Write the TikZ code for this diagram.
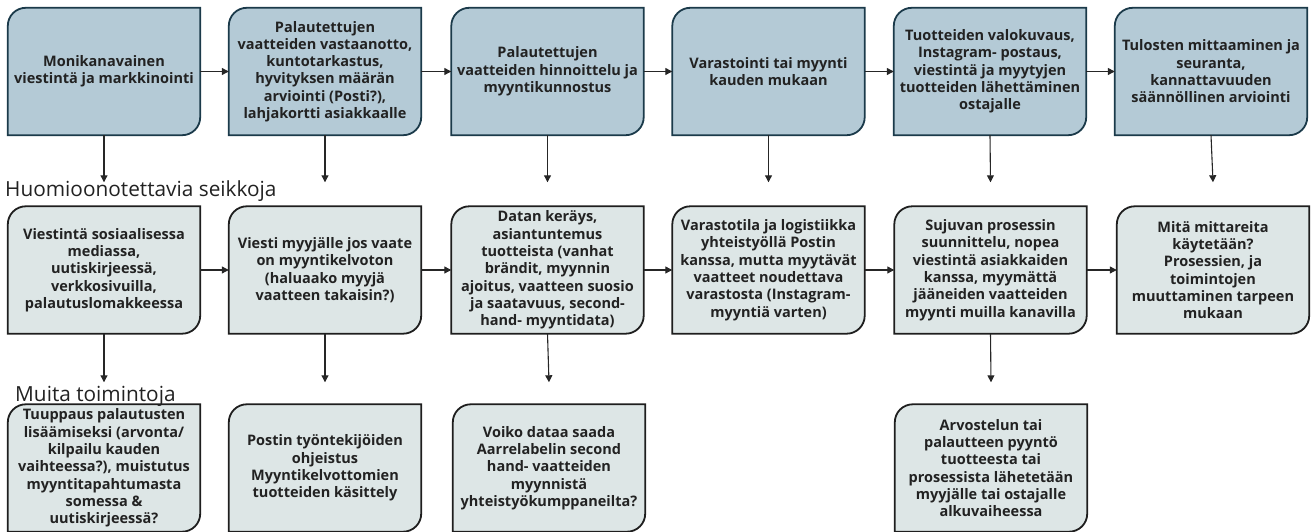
\documentclass[tikz,border=0pt]{standalone}
\usepackage{fontspec}
\setmainfont{Open Sans}
\usetikzlibrary{arrows.meta,backgrounds,calc}
\definecolor{topfill}{HTML}{B4CAD6}
\definecolor{topline}{HTML}{1B3A4A}
\definecolor{lowfill}{HTML}{DDE6E6}
\definecolor{lowline}{HTML}{1E1E1E}
\definecolor{txt}{HTML}{222222}
\def\cornerr{18pt}
\newcommand\diagshape[2]{%
  \path[#1] (#2.south west) -- ([yshift=-\cornerr]#2.north west)
    arc[start angle=180,end angle=90,radius=\cornerr] -- (#2.north east)
    -- ([yshift=\cornerr]#2.south east)
    arc[start angle=0,end angle=-90,radius=\cornerr] -- cycle;}
\tikzset{
  box/.style={minimum width=192pt, minimum height=127pt, inner sep=0pt,
    align=center, text=txt, font=\bfseries\fontsize{14.5}{17.3}\selectfont},
  topshape/.style={fill=topfill, draw=topline, line width=1.8pt},
  lowshape/.style={fill=lowfill, draw=lowline, line width=1.8pt},
  arr/.style={draw=black!85, line width=1.1pt, -{Triangle[length=7pt,width=7pt]}},
  heading/.style={anchor=base west, inner sep=0pt, text=txt, font=\fontsize{20.8}{24}\selectfont}
}
\begin{document}
\begin{tikzpicture}[x=1pt,y=1pt]
\useasboundingbox (0,0) rectangle (1314,532);
% top row (py center 71.5)
\node[box] (t1) at (104,460.5) {Monikanavainen\\viestintä ja markkinointi};
\node[box] (t2) at (325,460.5) {Palautettujen\\vaatteiden vastaanotto,\\kuntotarkastus,\\hyvityksen määrän\\arviointi (Posti?),\\lahjakortti asiakkaalle};
\node[box] (t3) at (547.5,460.5) {Palautettujen\\vaatteiden hinnoittelu ja\\myyntikunnostus};
\node[box] (t4) at (768.5,460.5) {Varastointi tai myynti\\kauden mukaan};
\node[box] (t5) at (990,460.5) {Tuotteiden valokuvaus,\\Instagram- postaus,\\viestintä ja myytyjen\\tuotteiden lähettäminen\\ostajalle};
\node[box] (t6) at (1211,460.5) {Tulosten mittaaminen ja\\seuranta,\\kannattavuuden\\säännöllinen arviointi};
% middle row (py center 270)
\node[box] (m1) at (104,262) {Viestintä sosiaalisessa\\mediassa,\\uutiskirjeessä,\\verkkosivuilla,\\palautuslomakkeessa};
\node[box] (m2) at (325,262) {Viesti myyjälle jos vaate\\on myyntikelvoton\\(haluaako myyjä\\vaatteen takaisin?)};
\node[box] (m3) at (547.5,262) {Datan keräys,\\asiantuntemus\\tuotteista (vanhat\\brändit, myynnin\\ajoitus, vaatteen suosio\\ja saatavuus, second-\\hand- myyntidata)};
\node[box] (m4) at (768.5,262) {Varastotila ja logistiikka\\yhteistyöllä Postin\\kanssa, mutta myytävät\\vaatteet noudettava\\varastosta (Instagram-\\myyntiä varten)};
\node[box] (m5) at (990.5,262) {Sujuvan prosessin\\suunnittelu, nopea\\viestintä asiakkaiden\\kanssa, myymättä\\jääneiden vaatteiden\\myynti muilla kanavilla};
\node[box] (m6) at (1213,262) {Mitä mittareita\\käytetään?\\Prosessien, ja\\toimintojen\\muuttaminen tarpeen\\mukaan};
% bottom row (py center 468)
\node[box] (b1) at (104,64) {Tuuppaus palautusten\\lisäämiseksi (arvonta/\\kilpailu kauden\\vaihteessa?), muistutus\\myyntitapahtumasta\\somessa \&\\uutiskirjeessä?};
\node[box] (b2) at (325,64) {Postin työntekijöiden\\ohjeistus\\Myyntikelvottomien\\tuotteiden käsittely};
\node[box] (b3) at (549,64) {Voiko dataa saada\\Aarrelabelin second\\hand- vaatteiden\\myynnistä\\yhteistyökumppaneilta?};
\node[box] (b4) at (991,64) {Arvostelun tai\\palautteen pyyntö\\tuotteesta tai\\prosessista lähetetään\\myyjälle tai ostajalle\\alkuvaiheessa};
% shapes behind
\begin{scope}[on background layer]
\foreach \n in {t1,t2,t3,t4,t5,t6} {\diagshape{topshape}{\n}}
\foreach \n in {m1,m2,m3,m4,m5,m6,b1,b2,b3,b4} {\diagshape{lowshape}{\n}}
\end{scope}
% headings
\node[heading] (h1) at (5,335) {Huomioonotettavia seikkoja};
\node[heading] (h2) at (15,130) {Muita toimintoja};
% horizontal connectors
\foreach \a/\b in {t1/t2,t2/t3,t3/t4,t4/t5,t5/t6,m1/m2,m2/m3,m3/m4,m4/m5,m5/m6}
  {\draw[arr] (\a.east) -- (\b.west);}
% vertical connectors
\foreach \a/\b in {t1/m1,t2/m2,t3/m3,t4/m4,t5/m5,t6/m6}
  {\draw[arr] (\a.south) -- ([yshift=24pt]\b.north);}
\foreach \a/\b in {m1/b1,m2/b2,m3/b3,m5/b4}
  {\draw[arr] (\a.south) -- ([yshift=22pt]\b.north);}
\end{tikzpicture}
\end{document}
